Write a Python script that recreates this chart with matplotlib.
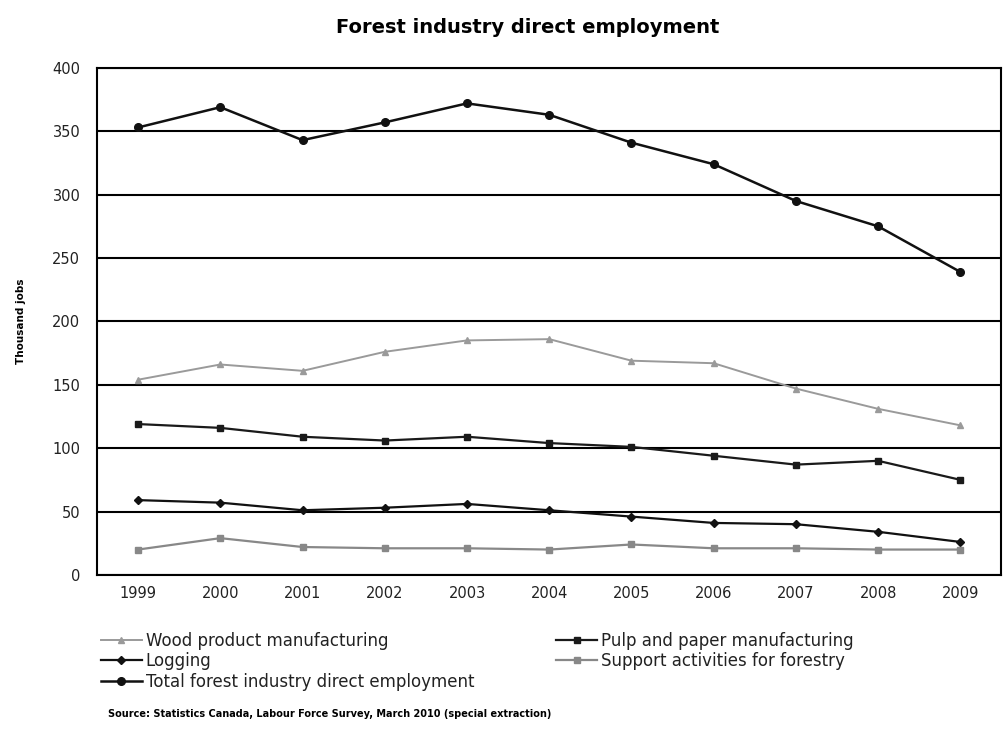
import matplotlib
matplotlib.use("Agg")
import matplotlib.pyplot as plt

# Dados (milhares de empregos)
anos = ['1999', '2000', '2001', '2002', '2003', '2004', '2005', '2006', '2007', '2008', '2009']
madeira = [154, 166, 161, 176, 185, 186, 169, 167, 147, 131, 118]
celulose = [119, 116, 109, 106, 109, 104, 101, 94, 87, 90, 75]
extracao = [59, 57, 51, 53, 56, 51, 46, 41, 40, 34, 26]
apoio = [20, 29, 22, 21, 21, 20, 24, 21, 21, 20, 20]
total = [353, 369, 343, 357, 372, 363, 341, 324, 295, 275, 239]

nomes = ['Wood product manufacturing', 'Pulp and paper manufacturing', 'Logging',
         'Support activities for forestry', 'Total forest industry direct employment']

fig = plt.figure(figsize=(10.05, 7.38), dpi=100)
ax = fig.add_axes([0.0965, 0.221, 0.9, 0.687])

x = range(len(anos))
cinza = '#9a9a9a'
l_mad, = ax.plot(x, madeira, color=cinza, marker='^', ms=5, lw=1.4)
l_cel, = ax.plot(x, celulose, color='#1a1a1a', marker='s', ms=5, lw=1.6)
l_ext, = ax.plot(x, extracao, color='#111111', marker='D', ms=4, lw=1.6)
l_apo, = ax.plot(x, apoio, color='#888888', marker='s', ms=5, lw=1.6)
l_tot, = ax.plot(x, total, color='#111111', marker='o', ms=5.5, lw=1.8)

ax.set_xlim(-0.5, len(anos) - 0.5)
ax.set_ylim(0, 400)
ax.set_yticks(range(0, 401, 50))
ax.set_xticks(list(x))
ax.set_xticklabels(anos)
ax.tick_params(axis='both', length=0, labelsize=10.5, pad=8, labelcolor='#222222')
ax.tick_params(axis='y', pad=12)
ax.yaxis.grid(True, color='black', lw=1.5)
ax.set_axisbelow(True)
for s in ax.spines.values():
    s.set_linewidth(1.5)
ax.set_ylabel('Thousand jobs', fontsize=7.5, fontweight='bold', labelpad=19)

fig.text(0.525, 0.975, 'Forest industry direct employment', ha='center', va='top',
         fontsize=14, fontweight='heavy')

kw = dict(frameon=False, fontsize=12, handlelength=2.5, handletextpad=0.2,
          labelspacing=0.15, borderaxespad=0, borderpad=0, labelcolor='#222222')
fig.legend([l_mad, l_ext, l_tot], [nomes[0], nomes[2], nomes[4]],
           loc='upper left', bbox_to_anchor=(0.1, 0.144), **kw)
fig.legend([l_cel, l_apo], [nomes[1], nomes[3]],
           loc='upper left', bbox_to_anchor=(0.553, 0.144), **kw)

fig.text(0.107, 0.028, 'Source: Statistics Canada, Labour Force Survey, March 2010 (special extraction)',
         fontsize=7, fontweight='bold')

fig.savefig('out.png', dpi=100)
